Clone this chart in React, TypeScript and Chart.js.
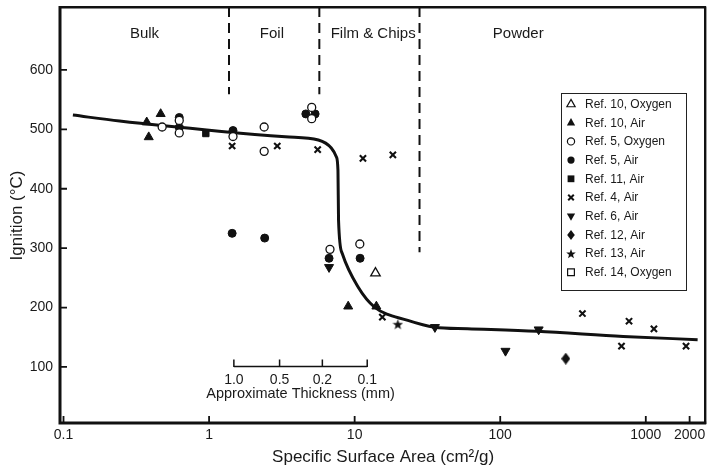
import React, { useEffect, useRef } from 'react';
import { Chart, registerables } from 'chart.js';

Chart.register(...registerables);

const FONT = "'Liberation Sans', Arial, Helvetica, sans-serif";
const INK = '#111';

// ---- axis ticks ----
const xTickValues = [0.1, 1, 10, 100, 1000, 2000];
const xTickLabels = ['0.1', '1', '10', '100', '1000', '2000'];
const yTickValues = [100, 200, 300, 400, 500, 600];

// ---- fitted curve ----
const curveS = [0.116, 0.243, 1.17, 3.34, 5.63, 6.91, 7.48, 7.68, 7.75, 8.22, 10.56, 13.7, 23.2, 35.3, 59.5, 179, 699, 2270];
const curveT = [524, 514, 497, 487.5, 482, 468.5, 453.8, 431, 347, 291, 234.6, 200.8, 178.4, 167, 164.4, 160, 151.4, 146];

// ---- series (specific surface area, ignition °C) ----
const ref10OxS = [13.9];
const ref10OxT = [258];
const ref10AirS = [0.373, 0.465, 0.385, 9.03, 14.1];
const ref10AirT = [512, 526, 487, 202, 202];
const ref5OxS = [0.476, 0.624, 0.624, 1.46, 2.39, 2.39, 5.07, 5.07, 6.77, 10.85];
const ref5OxT = [504, 515, 494, 488, 504, 463, 537, 518, 298, 307];
const ref5AirS = [0.624, 0.624, 1.46, 4.62, 5.35, 6.67, 10.9, 1.44, 2.41];
const ref5AirT = [520, 503, 498, 526, 526, 283, 283, 325, 317];
const ref11AirS = [0.95];
const ref11AirT = [493];
const ref4AirS = [1.44, 2.94, 5.57, 11.4, 18.3, 15.5, 367, 767, 1137, 681, 1890];
const ref4AirT = [472, 472, 466, 451, 457, 184, 190, 177, 164, 135, 135];
const ref6AirS = [6.67, 35.6, 108.7, 183.7];
const ref6AirT = [268, 167, 127, 163];
const ref12AirS = [282];
const ref12AirT = [114];
const ref13AirS = [19.8];
const ref13AirT = [172];
const ref14OxS: number[] = [];
const ref14OxT: number[] = [];

// ---- region dividers & labels ----
const dividerS = [1.37, 5.72, 27.9];
const dividerTop = 706;
const dividerBottom = [559, 559, 293];
const regionNames = ['Bulk', 'Foil', 'Film & Chips', 'Powder'];
const regionS = [0.36, 2.7, 13.4, 133];
const regionT = 661;

// ---- approximate thickness scale ----
const thicknessLabels = ['1.0', '0.5', '0.2', '0.1'];
const thicknessS = [1.48, 3.05, 6.0, 12.2];
const thicknessT = 101;

const legendLabels = [
  'Ref. 10, Oxygen', 'Ref. 10, Air', 'Ref. 5, Oxygen', 'Ref. 5, Air', 'Ref. 11, Air',
  'Ref. 4, Air', 'Ref. 6, Air', 'Ref. 12, Air', 'Ref. 13, Air', 'Ref. 14, Oxygen',
];
const legendKinds = ['triUpOpen', 'triUp', 'circleOpen', 'circle', 'square', 'x', 'triDown', 'diamond', 'star', 'squareOpen'];

const zip = (xs: number[], ys: number[]) => xs.map((x, i) => ({ x, y: ys[i] }));

function makeStar(size: number) {
  const c = document.createElement('canvas');
  c.width = size; c.height = size;
  const g = c.getContext('2d')!;
  const cx = size / 2, cy = size / 2 + 0.5;
  g.beginPath();
  for (let i = 0; i < 10; i++) {
    const r = i % 2 === 0 ? size / 2 : size / 2 * 0.42;
    const a = -Math.PI / 2 + i * Math.PI / 5;
    const px = cx + r * Math.cos(a), py = cy + r * Math.sin(a);
    if (i === 0) g.moveTo(px, py); else g.lineTo(px, py);
  }
  g.closePath();
  g.fillStyle = INK;
  g.fill();
  return c;
}

function makeDiamond(w: number, h: number) {
  const c = document.createElement('canvas');
  c.width = w; c.height = h;
  const g = c.getContext('2d')!;
  g.beginPath();
  g.moveTo(w / 2, 0); g.lineTo(w, h / 2); g.lineTo(w / 2, h); g.lineTo(0, h / 2);
  g.closePath();
  g.fillStyle = INK;
  g.fill();
  return c;
}

function drawMarker(ctx: CanvasRenderingContext2D, kind: string, x: number, y: number) {
  ctx.save();
  ctx.fillStyle = INK;
  ctx.strokeStyle = INK;
  ctx.lineWidth = 1.2;
  const open = kind.endsWith('Open');
  ctx.beginPath();
  if (kind.startsWith('triUp')) {
    const r = 4.6;
    ctx.moveTo(x, y - r); ctx.lineTo(x + r * 0.9, y + r * 0.6); ctx.lineTo(x - r * 0.9, y + r * 0.6); ctx.closePath();
  } else if (kind === 'triDown') {
    const r = 4.6;
    ctx.moveTo(x, y + r); ctx.lineTo(x + r * 0.9, y - r * 0.6); ctx.lineTo(x - r * 0.9, y - r * 0.6); ctx.closePath();
  } else if (kind.startsWith('circle')) {
    ctx.arc(x, y, 3.6, 0, Math.PI * 2);
  } else if (kind.startsWith('square')) {
    ctx.rect(x - 3.4, y - 3.4, 6.8, 6.8);
  } else if (kind === 'diamond') {
    ctx.moveTo(x, y - 5); ctx.lineTo(x + 3.8, y); ctx.lineTo(x, y + 5); ctx.lineTo(x - 3.8, y); ctx.closePath();
  } else if (kind === 'star') {
    for (let i = 0; i < 10; i++) {
      const r = i % 2 === 0 ? 5 : 2.1;
      const a = -Math.PI / 2 + i * Math.PI / 5;
      const px = x + r * Math.cos(a), py = y + 0.5 + r * Math.sin(a);
      if (i === 0) ctx.moveTo(px, py); else ctx.lineTo(px, py);
    }
    ctx.closePath();
  } else if (kind === 'x') {
    ctx.lineWidth = 2;
    ctx.moveTo(x - 2.8, y - 2.8); ctx.lineTo(x + 2.8, y + 2.8);
    ctx.moveTo(x + 2.8, y - 2.8); ctx.lineTo(x - 2.8, y + 2.8);
    ctx.stroke();
    ctx.restore();
    return;
  }
  if (open) {
    ctx.fillStyle = '#fff';
    ctx.fill();
    ctx.stroke();
  } else {
    ctx.fill();
  }
  ctx.restore();
}

const overlay = {
  id: 'overlay',
  afterDatasetsDraw(chart: any) {
    const ctx: CanvasRenderingContext2D = chart.ctx;
    const { left, right, top, bottom } = chart.chartArea;
    const xs = chart.scales.x;
    const ys = chart.scales.y;
    ctx.save();
    ctx.strokeStyle = INK;
    ctx.fillStyle = INK;

    // frame
    ctx.lineCap = 'butt';
    ctx.lineWidth = 2.4;
    ctx.beginPath();
    ctx.moveTo(left, top + 0.3); ctx.lineTo(right, top + 0.3);
    ctx.moveTo(right - 1, top); ctx.lineTo(right - 1, bottom);
    ctx.stroke();
    ctx.lineWidth = 3;
    ctx.beginPath();
    ctx.moveTo(left, top - 1); ctx.lineTo(left, bottom);
    ctx.moveTo(left - 1.5, bottom - 1); ctx.lineTo(right, bottom - 1);
    ctx.stroke();

    // inward ticks
    ctx.lineWidth = 1.8;
    ctx.beginPath();
    yTickValues.forEach((v) => {
      const py = ys.getPixelForValue(v);
      ctx.moveTo(left, py); ctx.lineTo(left + 7, py);
    });
    xTickValues.forEach((v) => {
      const px = xs.getPixelForValue(v);
      ctx.moveTo(px, bottom); ctx.lineTo(px, bottom - 8);
    });
    ctx.stroke();

    // region labels
    ctx.fillStyle = '#1a1a1a';
    ctx.font = `15px ${FONT}`;
    ctx.textAlign = 'center';
    ctx.textBaseline = 'middle';
    regionNames.forEach((n, i) => {
      ctx.fillText(n, xs.getPixelForValue(regionS[i]), ys.getPixelForValue(regionT));
    });

    // thickness scale
    const ty = ys.getPixelForValue(thicknessT);
    const tx0 = xs.getPixelForValue(thicknessS[0]);
    const tx1 = xs.getPixelForValue(thicknessS[thicknessS.length - 1]);
    ctx.strokeStyle = INK;
    ctx.lineWidth = 1.5;
    ctx.beginPath();
    ctx.moveTo(tx0, ty); ctx.lineTo(tx1, ty);
    thicknessS.forEach((s) => {
      const px = xs.getPixelForValue(s);
      ctx.moveTo(px, ty + 0.7); ctx.lineTo(px, ty - 7);
    });
    ctx.stroke();
    ctx.font = `14px ${FONT}`;
    thicknessLabels.forEach((l, i) => {
      ctx.fillText(l, xs.getPixelForValue(thicknessS[i]), ty + 13.5);
    });
    ctx.font = `14.5px ${FONT}`;
    ctx.fillText('Approximate Thickness (mm)', (tx0 + tx1) / 2, ty + 28);

    // legend
    const lx0 = 561, ly0 = 93, lx1 = 686, ly1 = 290;
    ctx.fillStyle = '#fff';
    ctx.fillRect(lx0, ly0, lx1 - lx0, ly1 - ly0);
    ctx.strokeStyle = '#222';
    ctx.lineWidth = 1;
    ctx.strokeRect(lx0 + 0.5, ly0 + 0.5, lx1 - lx0, ly1 - ly0);
    ctx.font = `12px ${FONT}`;
    ctx.textAlign = 'left';
    ctx.textBaseline = 'middle';
    legendLabels.forEach((lab, i) => {
      const y = 104 + i * 18.7;
      drawMarker(ctx, legendKinds[i], 571, y);
      ctx.fillStyle = '#1a1a1a';
      ctx.fillText(lab, 585, y + 0.5);
    });

    ctx.restore();
  },
};

export default function App() {
  const ref = useRef<HTMLCanvasElement | null>(null);

  useEffect(() => {
    if (!ref.current) return;
    const star = makeStar(11);
    const diamond = makeDiamond(9, 12);
    const pt = (extra: any) => ({
      showLine: false,
      pointBackgroundColor: INK,
      pointBorderColor: INK,
      pointBorderWidth: 1,
      pointRadius: 4,
      ...extra,
    });
    const dividerSets = dividerS.map((s, i) => ({
      type: 'line' as const,
      data: [{ x: s, y: dividerTop }, { x: s, y: dividerBottom[i] }],
      borderColor: INK,
      borderWidth: 2,
      borderDash: [10, 6],
      pointRadius: 0,
      fill: false,
    }));
    const chart = new Chart(ref.current, {
      type: 'scatter',
      data: {
        datasets: [
          pt({ data: zip(ref10OxS, ref10OxT), pointStyle: 'triangle', pointRadius: 5.5, pointBackgroundColor: '#fff', pointBorderWidth: 1.3 }),
          pt({ data: zip(ref10AirS, ref10AirT), pointStyle: 'triangle', pointRadius: 5.2 }),
          pt({ data: zip(ref5OxS, ref5OxT), pointStyle: 'circle', pointRadius: 4, pointBackgroundColor: '#fff', pointBorderWidth: 1.3 }),
          pt({ data: zip(ref5AirS, ref5AirT), pointStyle: 'circle', pointRadius: 4 }),
          pt({ data: zip(ref11AirS, ref11AirT), pointStyle: 'rect', pointRadius: 4.5 }),
          pt({ data: zip(ref4AirS, ref4AirT), pointStyle: 'crossRot', pointRadius: 4.4, pointBorderWidth: 2.1 }),
          pt({ data: zip(ref6AirS, ref6AirT), pointStyle: 'triangle', pointRadius: 5.2, pointRotation: 180 }),
          pt({ data: zip(ref12AirS, ref12AirT), pointStyle: diamond }),
          pt({ data: zip(ref13AirS, ref13AirT), pointStyle: star }),
          pt({ data: zip(ref14OxS, ref14OxT), pointStyle: 'rect', pointBackgroundColor: '#fff' }),
          ...dividerSets,
          {
            type: 'line' as const,
            data: zip(curveS, curveT),
            borderColor: INK,
            borderWidth: 3,
            pointRadius: 0,
            fill: false,
            cubicInterpolationMode: 'monotone' as const,
          },
        ] as any,
      },
      options: {
        responsive: false,
        animation: false,
        events: [],
        layout: { padding: { top: 7, right: 3, left: 0, bottom: 0 } },
        plugins: { legend: { display: false }, tooltip: { enabled: false } },
        scales: {
          x: {
            type: 'logarithmic',
            min: 0.0946,
            max: 2600,
            grid: { display: false, drawTicks: false },
            border: { display: false },
            afterBuildTicks: (s: any) => { s.ticks = xTickValues.map((v) => ({ value: v })); },
            afterFit: (s: any) => { s.height = 46; s.paddingLeft = 0; s.paddingRight = 0; },
            ticks: {
              autoSkip: false,
              maxRotation: 0,
              padding: 3,
              color: '#1a1a1a',
              font: { family: FONT, size: 14 },
              callback: (_v: any, i: number) => xTickLabels[i],
            },
            title: {
              display: true,
              text: 'Specific Surface Area (cm²/g)',
              color: '#1a1a1a',
              font: { family: FONT, size: 17 },
              padding: { top: 0, bottom: 2 },
            },
          },
          y: {
            type: 'linear',
            min: 4,
            max: 706,
            grid: { display: false, drawTicks: false },
            border: { display: false },
            afterBuildTicks: (s: any) => { s.ticks = yTickValues.map((v) => ({ value: v })); },
            afterFit: (s: any) => { s.width = 60; s.paddingTop = 0; s.paddingBottom = 0; },
            ticks: {
              padding: 7,
              color: '#1a1a1a',
              font: { family: FONT, size: 14 },
              callback: (v: any) => String(v),
            },
            title: {
              display: true,
              text: 'Ignition (°C)',
              color: '#1a1a1a',
              font: { family: FONT, size: 17 },
              padding: { top: 7, bottom: 0 },
            },
          },
        },
      } as any,
      plugins: [overlay],
    });
    return () => chart.destroy();
  }, []);

  return (
    <div style={{ position: 'fixed', left: 0, top: 0, width: 713, height: 470, background: '#fff' }}>
      <canvas ref={ref} width={713} height={470} style={{ display: 'block', width: 713, height: 470 }} />
    </div>
  );
}
